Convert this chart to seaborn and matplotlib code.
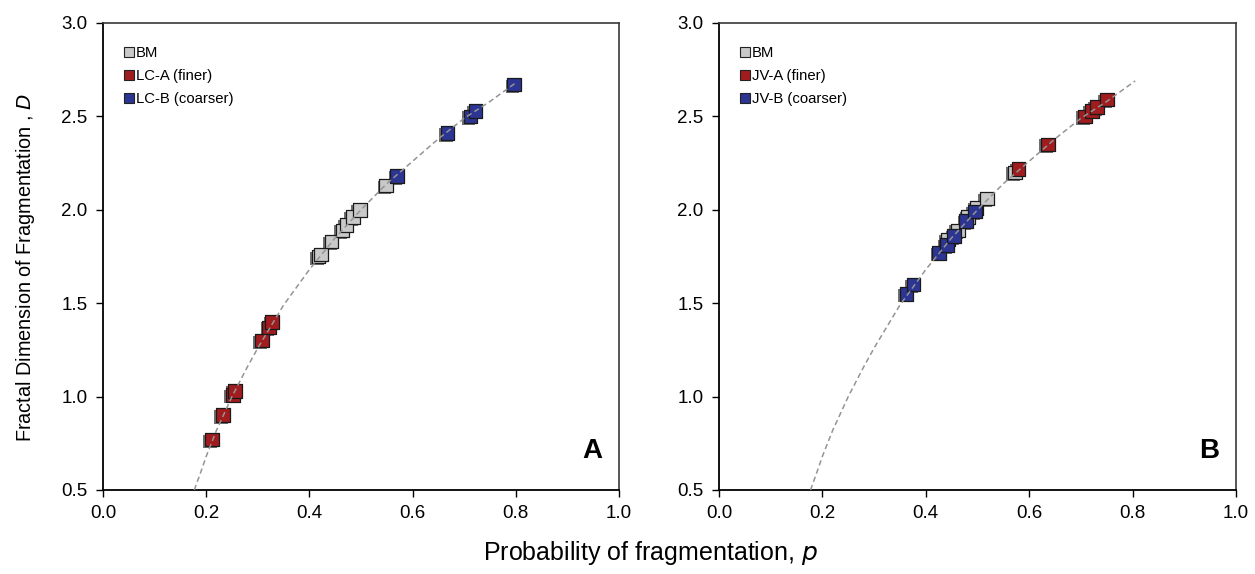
import numpy as np
import pandas as pd
import matplotlib
matplotlib.use("Agg")
import matplotlib.pyplot as plt
import matplotlib.patheffects as pe
from matplotlib.lines import Line2D
import seaborn as sns

# ---------------- data ----------------
# Panel A
a_bm_p = [0.418, 0.423, 0.443, 0.464, 0.472, 0.484, 0.498, 0.549]
a_bm_d = [1.75, 1.76, 1.83, 1.89, 1.92, 1.96, 2.00, 2.13]
a_fine_p = [0.211, 0.232, 0.252, 0.256, 0.308, 0.322, 0.328]
a_fine_d = [0.77, 0.90, 1.01, 1.03, 1.30, 1.37, 1.40]
a_coarse_p = [0.570, 0.668, 0.712, 0.722, 0.797]
a_coarse_d = [2.18, 2.41, 2.50, 2.53, 2.67]

# Panel B
b_bm_p = [0.443, 0.462, 0.482, 0.498, 0.518, 0.572]
b_bm_d = [1.84, 1.89, 1.96, 2.01, 2.06, 2.20]
b_fine_p = [0.579, 0.636, 0.708, 0.721, 0.731, 0.750]
b_fine_d = [2.22, 2.35, 2.50, 2.53, 2.55, 2.59]
b_coarse_p = [0.363, 0.376, 0.426, 0.441, 0.455, 0.478, 0.495]
b_coarse_d = [1.55, 1.60, 1.77, 1.81, 1.86, 1.94, 1.99]

# Dashed model curve
curve_p = [0.177, 0.19, 0.20, 0.22, 0.25, 0.28, 0.30, 0.35, 0.40, 0.45,
           0.50, 0.55, 0.60, 0.65, 0.70, 0.75, 0.80, 0.805]
curve_d = [0.50, 0.60, 0.68, 0.82, 1.00, 1.16, 1.26, 1.49, 1.68, 1.85,
           2.00, 2.14, 2.26, 2.38, 2.49, 2.58, 2.68, 2.69]

a_labels = ["BM", "LC-A (finer)", "LC-B (coarser)"]
b_labels = ["BM", "JV-A (finer)", "JV-B (coarser)"]
x_ticks = [0.0, 0.2, 0.4, 0.6, 0.8, 1.0]
y_ticks = [0.5, 1.0, 1.5, 2.0, 2.5, 3.0]

colors = ["#c9c9c9", "#a11c1f", "#2d3592"]

# ---------------- style ----------------
sns.set_style("white")
plt.rcParams["font.family"] = ["Liberation Sans", "DejaVu Sans"]
plt.rcParams["text.color"] = "black"
plt.rcParams["axes.labelcolor"] = "black"
plt.rcParams["xtick.color"] = "black"
plt.rcParams["ytick.color"] = "black"

fig = plt.figure(figsize=(12.55, 5.74), dpi=100)
axA = fig.add_axes([103 / 1255, 1 - 490 / 574, 516 / 1255, 467 / 574])
axB = fig.add_axes([719 / 1255, 1 - 490 / 574, 517 / 1255, 467 / 574])

panels = [
    (axA, [(a_bm_p, a_bm_d), (a_fine_p, a_fine_d), (a_coarse_p, a_coarse_d)], a_labels, "A", 0.80),
    (axB, [(b_bm_p, b_bm_d), (b_fine_p, b_fine_d), (b_coarse_p, b_coarse_d)], b_labels, "B", 0.805),
]

for ax, series, labels, letter, pmax in panels:
    frames = []
    for (pp, dd), lab in zip(series, labels):
        frames.append(pd.DataFrame({"p": pp, "D": dd, "series": lab}))
    df = pd.concat(frames, ignore_index=True)
    sns.scatterplot(data=df, x="p", y="D", hue="series", hue_order=labels,
                    palette=colors, marker="s", s=96, edgecolor="#1a1a1a",
                    linewidth=0.9, ax=ax, legend=False, zorder=3)
    for coll in ax.collections:
        coll.set_path_effects([
            pe.SimplePatchShadow(offset=(-1.3, -1.3), shadow_rgbFace="#111111", alpha=0.6),
            pe.Normal()])
    cp = [p for p in curve_p if p <= pmax + 1e-9]
    cd = curve_d[:len(cp)]
    sns.lineplot(x=cp, y=cd, ax=ax, color="#949494", linestyle=(0, (3.5, 2.2)),
                 linewidth=1.1, zorder=4, sort=False, estimator=None)

    ax.set_xlim(0, 1.0)
    ax.set_ylim(0.5, 3.0)
    ax.set_xticks(x_ticks)
    ax.set_yticks(y_ticks)
    ax.set_xticklabels([f"{t:.1f}" for t in x_ticks])
    ax.set_yticklabels([f"{t:.1f}" for t in y_ticks])
    ax.tick_params(axis="both", direction="out", length=5, width=1,
                   labelsize=13.5, colors="black", left=True, bottom=True, pad=6)
    ax.set_xlabel("")
    ax.set_ylabel("")
    for side in ["left", "bottom"]:
        ax.spines[side].set_color("black")
        ax.spines[side].set_linewidth(1.3)
    for side in ["top", "right"]:
        ax.spines[side].set_color("#3a3a3a")
        ax.spines[side].set_linewidth(1.2)

    handles = [Line2D([], [], marker="s", linestyle="none", markersize=7.5,
                      markerfacecolor=c, markeredgecolor="#222222", markeredgewidth=0.8)
               for c in colors]
    ax.legend(handles, labels, loc="upper left", bbox_to_anchor=(0.03, 0.963),
              frameon=False, fontsize=10.7, handlelength=0.6, handletextpad=0.15,
              labelspacing=0.6, borderaxespad=0, labelcolor="black")

    ax.text(0.968, 0.055, letter, transform=ax.transAxes, ha="right", va="bottom",
            fontsize=20, fontweight="bold")

fig.text(26 / 1255, 1 - 268 / 574, "Fractal Dimension of Fragmentation , $\\mathit{D}$",
         rotation=90, ha="center", va="center", fontsize=14.3)
fig.text(650 / 1255, 1 - 553 / 574, "Probability of fragmentation, $\\mathit{p}$",
         ha="center", va="center", fontsize=18)

fig.savefig("out.png", dpi=100)
